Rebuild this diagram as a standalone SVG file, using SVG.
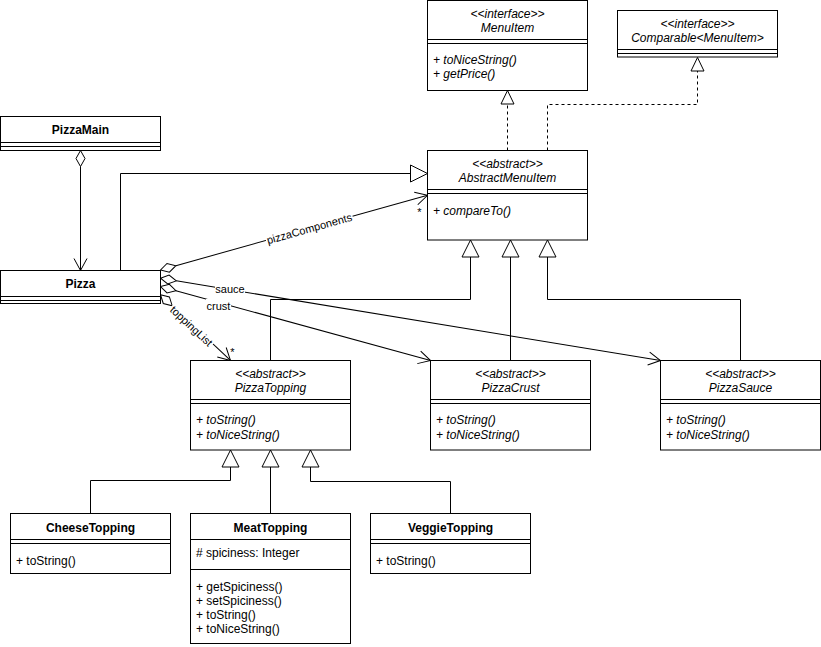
<svg xmlns="http://www.w3.org/2000/svg" width="821" height="647" viewBox="0 0 821 647">
<style>
text{font-family:"Liberation Sans",Arial,Helvetica,sans-serif;font-size:12px;fill:#000}
.box{fill:#fff;stroke:#000;stroke-width:1}
.sep{stroke:#000;stroke-width:1;fill:none}
.c{text-anchor:middle}
.i{font-style:italic}
.b{font-weight:bold}
.lbl{font-size:11px}
.ln{fill:none;stroke:#000;stroke-width:1}
.dash{fill:none;stroke:#000;stroke-width:1;stroke-dasharray:3 3}
.tri{fill:#fff;stroke:#000;stroke-width:1}
.dia{fill:#fff;stroke:#000;stroke-width:1}
.bg{fill:#fff}
</style>
<rect x="0" y="0" width="821" height="647" fill="#fff"/>

<g id="connectors">
  <!-- PizzaMain aggregates Pizza -->
  <path class="dia" d="M80.5,150.5 L85,158.5 L80.5,166.5 L76,158.5 Z"/>
  <path class="ln" d="M80.5,166.5 V270.5"/>
  <path class="ln" d="M74,258.5 L80.5,270.5 L87,258.5"/>

  <!-- Pizza extends AbstractMenuItem -->
  <path class="ln" d="M120.5,270.5 V173.5 H410.5"/>
  <path class="tri" d="M410.5,165 L427.5,173.5 L410.5,182 Z"/>

  <!-- AbstractMenuItem realizes MenuItem -->
  <path class="dash" d="M507.5,150.5 V104"/>
  <path class="tri" d="M507.5,90.5 L514,104 L501,104 Z"/>
  <!-- AbstractMenuItem realizes Comparable -->
  <path class="dash" d="M547.5,150.5 V104.5 H697.5 V71"/>
  <path class="tri" d="M697.5,57.5 L704,71 L691,71 Z"/>

  <!-- PizzaTopping / PizzaCrust / PizzaSauce extend AbstractMenuItem -->
  <path class="ln" d="M270.5,360.5 V299.5 H470.5 V257"/>
  <path class="tri" d="M470.5,240 L479,257 L462,257 Z"/>
  <path class="ln" d="M510.5,360.5 V257"/>
  <path class="tri" d="M510.5,240 L519,257 L502,257 Z"/>
  <path class="ln" d="M740.5,360.5 V299.5 H547.5 V257"/>
  <path class="tri" d="M547.5,240 L556,257 L539,257 Z"/>

  <!-- toppings extend PizzaTopping -->
  <path class="ln" d="M90.5,513.5 V480.5 H230.5 V467"/>
  <path class="tri" d="M230.5,450 L239,467 L222,467 Z"/>
  <path class="ln" d="M270.5,513.5 V467"/>
  <path class="tri" d="M270.5,450 L279,467 L262,467 Z"/>
  <path class="ln" d="M450.5,513.5 V481.5 H310.5 V467"/>
  <path class="tri" d="M310.5,450 L319,467 L302,467 Z"/>

  <!-- pizzaComponents -->
  <g transform="translate(160.5,270) rotate(-15.64)">
    <path class="dia" d="M0,0 L8,-4.5 L16,0 L8,4.5 Z"/>
    <path class="ln" d="M16,0 H277.3"/>
    <path class="ln" d="M265.3,-6.5 L277.3,0 L265.3,6.5"/>
  </g>
  <!-- sauce -->
  <g transform="translate(160.5,278.25) rotate(9.34)">
    <path class="dia" d="M0,0 L8,-4.5 L16,0 L8,4.5 Z"/>
    <path class="ln" d="M16,0 H506.7"/>
    <path class="ln" d="M494.7,-6.5 L506.7,0 L494.7,6.5"/>
  </g>
  <!-- crust -->
  <g transform="translate(160.5,286.5) rotate(15.33)">
    <path class="dia" d="M0,0 L8,-4.5 L16,0 L8,4.5 Z"/>
    <path class="ln" d="M16,0 H280"/>
    <path class="ln" d="M268,-6.5 L280,0 L268,6.5"/>
  </g>
  <!-- toppingList -->
  <g transform="translate(160.5,294.75) rotate(43.2)">
    <path class="dia" d="M0,0 L8,-4.5 L16,0 L8,4.5 Z"/>
    <path class="ln" d="M16,0 H96"/>
    <path class="ln" d="M84,-6.5 L96,0 L84,6.5"/>
  </g>

  <!-- labels -->
  <g transform="translate(309.3,228.5) rotate(-15.64)">
    <rect class="bg" x="-45" y="-6.5" width="90" height="12"/>
    <text class="lbl c" x="0" y="4">pizzaComponents</text>
  </g>
  <rect class="bg" x="215" y="282" width="30" height="12"/>
  <text class="lbl c" x="230" y="292.5">sauce</text>
  <rect class="bg" x="206" y="299" width="25" height="12"/>
  <text class="lbl c" x="218.5" y="309.5">crust</text>
  <g transform="translate(191.5,326) rotate(43.2)">
    <rect class="bg" x="-28" y="-6.5" width="56" height="12"/>
    <text class="lbl c" x="0" y="4">toppingList</text>
  </g>
  <text class="lbl c" x="419.3" y="215.5">*</text>
  <text class="lbl c" x="232.5" y="355.5">*</text>
</g>

<g id="MenuItem">
  <rect class="box" x="427.5" y="0.5" width="160" height="90"/>
  <path class="sep" d="M427.5,39.5 H587.5 M427.5,43.5 H587.5"/>
  <text class="c i" x="507.5" y="18">&lt;&lt;interface&gt;&gt;</text>
  <text class="c i" x="507.5" y="32">MenuItem</text>
  <text class="i" x="433" y="64">+ toNiceString()</text>
  <text class="i" x="433" y="78">+ getPrice()</text>
</g>

<g id="Comparable">
  <rect class="box" x="617.5" y="10.5" width="160" height="46.5"/>
  <path class="sep" d="M617.5,49.5 H777.5 M617.5,53.5 H777.5"/>
  <text class="c i" x="697.5" y="28">&lt;&lt;interface&gt;&gt;</text>
  <text class="c i" x="697.5" y="42">Comparable&lt;MenuItem&gt;</text>
</g>

<g id="AbstractMenuItem">
  <rect class="box" x="427.5" y="150.5" width="160" height="89.5"/>
  <path class="sep" d="M427.5,189.5 H587.5 M427.5,193.5 H587.5"/>
  <text class="c i" x="507.5" y="168">&lt;&lt;abstract&gt;&gt;</text>
  <text class="c i" x="507.5" y="182">AbstractMenuItem</text>
  <text class="i" x="433" y="215">+ compareTo()</text>
</g>

<g id="PizzaMain">
  <rect class="box" x="0.5" y="116.5" width="160" height="34"/>
  <path class="sep" d="M0.5,142.5 H160.5 M0.5,146.5 H160.5"/>
  <text class="c b" x="80.5" y="134">PizzaMain</text>
</g>

<g id="Pizza">
  <rect class="box" x="0.5" y="270.5" width="160" height="33"/>
  <path class="sep" d="M0.5,296.5 H160.5 M0.5,300.5 H160.5"/>
  <text class="c b" x="80.5" y="288">Pizza</text>
</g>

<g id="PizzaTopping">
  <rect class="box" x="190.5" y="360.5" width="160" height="89.5"/>
  <path class="sep" d="M190.5,399.5 H350.5 M190.5,403.5 H350.5"/>
  <text class="c i" x="270.5" y="377.5">&lt;&lt;abstract&gt;&gt;</text>
  <text class="c i" x="270.5" y="392">PizzaTopping</text>
  <text class="i" x="196" y="424">+ toString()</text>
  <text class="i" x="196" y="438.5">+ toNiceString()</text>
</g>

<g id="PizzaCrust">
  <rect class="box" x="430.5" y="360.5" width="160" height="89.5"/>
  <path class="sep" d="M430.5,399.5 H590.5 M430.5,403.5 H590.5"/>
  <text class="c i" x="510.5" y="377.5">&lt;&lt;abstract&gt;&gt;</text>
  <text class="c i" x="510.5" y="392">PizzaCrust</text>
  <text class="i" x="436" y="424">+ toString()</text>
  <text class="i" x="436" y="438.5">+ toNiceString()</text>
</g>

<g id="PizzaSauce">
  <rect class="box" x="660.5" y="360.5" width="160" height="89.5"/>
  <path class="sep" d="M660.5,399.5 H820.5 M660.5,403.5 H820.5"/>
  <text class="c i" x="740.5" y="377.5">&lt;&lt;abstract&gt;&gt;</text>
  <text class="c i" x="740.5" y="392">PizzaSauce</text>
  <text class="i" x="666" y="424">+ toString()</text>
  <text class="i" x="666" y="438.5">+ toNiceString()</text>
</g>

<g id="CheeseTopping">
  <rect class="box" x="10.5" y="513.5" width="160" height="60"/>
  <path class="sep" d="M10.5,539.5 H170.5 M10.5,543.5 H170.5"/>
  <text class="c b" x="90.5" y="531.5">CheeseTopping</text>
  <text x="16" y="565">+ toString()</text>
</g>

<g id="MeatTopping">
  <rect class="box" x="190.5" y="513.5" width="160" height="130"/>
  <path class="sep" d="M190.5,539.5 H350.5 M190.5,569.5 H350.5"/>
  <text class="c b" x="270.5" y="531.5">MeatTopping</text>
  <text x="196" y="557"># spiciness: Integer</text>
  <text x="196" y="591">+ getSpiciness()</text>
  <text x="196" y="605">+ setSpiciness()</text>
  <text x="196" y="619">+ toString()</text>
  <text x="196" y="633">+ toNiceString()</text>
</g>

<g id="VeggieTopping">
  <rect class="box" x="370.5" y="513.5" width="160" height="60"/>
  <path class="sep" d="M370.5,539.5 H530.5 M370.5,543.5 H530.5"/>
  <text class="c b" x="450.5" y="531.5">VeggieTopping</text>
  <text x="376" y="565">+ toString()</text>
</g>
</svg>
